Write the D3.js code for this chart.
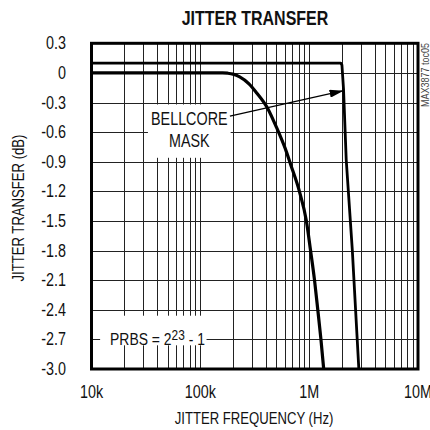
<!DOCTYPE html>
<html>
<head>
<meta charset="utf-8">
<script src="https://cdn.jsdelivr.net/npm/d3@7"></script>
<style>
  html, body { margin: 0; padding: 0; background: #fff; }
  svg text { font-family: "Liberation Sans", Arial, sans-serif; fill: #111; }
</style>
</head>
<body>
<div id="chart"></div>
<script>
// ---- data ----
const titleText = "JITTER TRANSFER";
const xTitle = "JITTER FREQUENCY (Hz)";
const yTitle = "JITTER TRANSFER (dB)";
const noteText = "MAX3877 toc05";

const xTickValues = [1e4, 1e5, 1e6, 1e7];
const xTickLabels = ["10k", "100k", "1M", "10M"];
const yTickValues = [0.3, 0, -0.3, -0.6, -0.9, -1.2, -1.5, -1.8, -2.1, -2.4, -2.7, -3.0];
const yTickLabels = ["0.3", "0", "-0.3", "-0.6", "-0.9", "-1.2", "-1.5", "-1.8", "-2.1", "-2.4", "-2.7", "-3.0"];

// measured jitter transfer (device)
const deviceFreq = [1e4, 1.6e5, 1.78e5, 2.0e5, 2.3e5, 2.8e5, 3.28e5, 4.16e5, 5.0e5, 6.18e5, 6.72e5, 8.18e5, 9.43e5, 1.03e6, 1.12e6, 1.20e6, 1.28e6, 1.36e6];
const deviceDb   = [0,   0,     -0.003, -0.012, -0.04,  -0.11,  -0.20,  -0.36,  -0.55,  -0.80,  -0.92,  -1.21,  -1.50,  -1.80,  -2.10,  -2.40,  -2.69,  -3.0];

// Bellcore mask
const maskFreq = [1e4, 1.95e6, 2.0e6, 2.07e6, 2.19e6, 2.49e6, 2.86e6];
const maskDb   = [0.1, 0.1,    0.08,  -0.17,  -0.88,  -1.79,  -3.0];

// annotation anchors (data units)
const arrowFrom = [1.87e5, -0.437];
const arrowTo   = [2.07e6, -0.18];
const maskLabelLines = ["BELLCORE", "MASK"];
const maskLabelBox = { f0: 3.3e4, f1: 1.9e5, db0: -0.32, db1: -0.86 };
const prbsBox = { f0: 1.2e4, f1: 1.14e5, db0: -2.46, db1: -2.76 };
const prbsAt = [1.48e4, -2.7];

// ---- drawing ----
const W = 430, H = 430;
const SX = 0.82; // condensed look
const svg = d3.select("#chart").append("svg").attr("width", W).attr("height", H);

const x = d3.scaleLog().domain([1e4, 1e7]).range([91.5, 418]);
const y = d3.scaleLinear().domain([-3.0, 0.3]).range([369, 43.3]);

function label(parent, px, py, str, size, anchor, rot) {
  const t = parent.append("text")
    .attr("transform", `translate(${px},${py})` + (rot ? ` rotate(${rot})` : "") + ` scale(${SX},1)`)
    .attr("font-size", size).attr("text-anchor", anchor || "start");
  if (str !== null) t.text(str);
  return t;
}

// grid
const minor = [];
for (let d = 1e4; d < 1e7; d *= 10) for (let k = 1; k <= 9; k++) minor.push(d * k);
minor.push(1e7);

const grid = svg.append("g").attr("stroke", "#222").attr("stroke-width", 1);
grid.selectAll("line.v").data(minor).join("line").attr("class", "v")
  .attr("x1", d => Math.round(x(d)) + 0.5).attr("x2", d => Math.round(x(d)) + 0.5)
  .attr("y1", y(0.3)).attr("y2", y(-3.0));
grid.selectAll("line.h").data(yTickValues).join("line").attr("class", "h")
  .attr("y1", d => Math.round(y(d)) + 0.5).attr("y2", d => Math.round(y(d)) + 0.5)
  .attr("x1", x(1e4)).attr("x2", x(1e7));

// white label boxes
svg.append("rect")
  .attr("x", x(maskLabelBox.f0)).attr("y", y(maskLabelBox.db0))
  .attr("width", x(maskLabelBox.f1) - x(maskLabelBox.f0))
  .attr("height", y(maskLabelBox.db1) - y(maskLabelBox.db0)).attr("fill", "#fff");
svg.append("rect")
  .attr("x", x(prbsBox.f0)).attr("y", y(prbsBox.db0))
  .attr("width", x(prbsBox.f1) - x(prbsBox.f0))
  .attr("height", y(prbsBox.db1) - y(prbsBox.db0)).attr("fill", "#fff");

// curves
const line = d3.line().x(d => x(d[0])).y(d => y(d[1])).curve(d3.curveMonotoneX);
svg.append("path").datum(deviceFreq.map((f, i) => [f, deviceDb[i]]))
  .attr("d", line).attr("fill", "none").attr("stroke", "#000").attr("stroke-width", 3.2)
  .attr("stroke-linejoin", "round");
const lineLin = d3.line().x(d => x(d[0])).y(d => y(d[1]));
svg.append("path").datum(maskFreq.map((f, i) => [f, maskDb[i]]))
  .attr("d", lineLin).attr("fill", "none").attr("stroke", "#000").attr("stroke-width", 2.8)
  .attr("stroke-linejoin", "round");

// frame
svg.append("rect").attr("x", x(1e4)).attr("y", y(0.3))
  .attr("width", x(1e7) - x(1e4)).attr("height", y(-3.0) - y(0.3))
  .attr("fill", "none").attr("stroke", "#000").attr("stroke-width", 3);

// arrow
svg.append("defs").append("marker").attr("id", "ah")
  .attr("viewBox", "0 0 14 8").attr("refX", 14).attr("refY", 4)
  .attr("markerWidth", 14).attr("markerHeight", 8).attr("markerUnits", "userSpaceOnUse")
  .attr("orient", "auto")
  .append("path").attr("d", "M0,0 L14,4 L0,8 Z").attr("fill", "#000");
svg.append("line")
  .attr("x1", x(arrowFrom[0])).attr("y1", y(arrowFrom[1]))
  .attr("x2", x(arrowTo[0])).attr("y2", y(arrowTo[1]))
  .attr("stroke", "#000").attr("stroke-width", 1.3).attr("marker-end", "url(#ah)");

// annotation text
const lblCx = (x(maskLabelBox.f0) + x(maskLabelBox.f1)) / 2;
label(svg, lblCx, 125, maskLabelLines[0], 17.5, "middle");
label(svg, lblCx, 147, maskLabelLines[1], 17.5, "middle");

const pt = label(svg, x(prbsAt[0]), y(prbsAt[1]) + 6, null, 17, "start");
pt.append("tspan").text("PRBS = 2");
pt.append("tspan").attr("dy", -5).attr("font-size", 14.5).text("23");
pt.append("tspan").attr("dy", 5).text(" - 1");

// axes tick labels
const yl = svg.append("g");
yTickValues.forEach((d, i) => label(yl, 66, y(d) + 6, yTickLabels[i], 17.5, "end"));
const xl = svg.append("g");
xTickValues.forEach((d, i) => label(xl, x(d), 398, xTickLabels[i], 17.5, "middle"));

// titles
label(svg, 255, 25, titleText, 19.5, "middle").attr("font-weight", "bold");
label(svg, 254, 424, xTitle, 16, "middle");
label(svg, 24, 208, yTitle, 16, "middle", -90);
label(svg, 429, 43, noteText, 11, "end", -90).style("fill", "#444");
</script>
</body>
</html>
